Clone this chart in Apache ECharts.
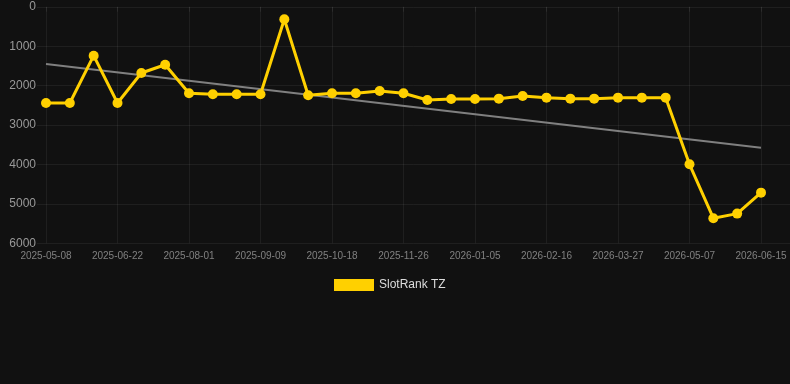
<!DOCTYPE html>
<html>
<head>
<meta charset="utf-8">
<script src="https://cdn.jsdelivr.net/npm/echarts@6/dist/echarts.min.js"></script>
<style>
html,body{margin:0;padding:0;background:#111111;}
#c{width:790px;height:384px;}
</style>
</head>
<body>
<div id="c"></div>
<script>
const categories = [
  '2025-05-08','2025-05-23','2025-06-07','2025-06-22','2025-07-05','2025-07-18',
  '2025-08-01','2025-08-14','2025-08-27','2025-09-09','2025-09-22','2025-10-05',
  '2025-10-18','2025-10-31','2025-11-13','2025-11-26','2025-12-09','2025-12-22',
  '2026-01-05','2026-01-19','2026-02-02','2026-02-16','2026-03-01','2026-03-14',
  '2026-03-27','2026-04-09','2026-04-23','2026-05-07','2026-05-20','2026-06-02',
  '2026-06-15'
];
const rankValues = [
  2440, 2440, 1240, 2440, 1680, 1470,
  2195, 2220, 2220, 2220, 317, 2245,
  2195, 2195, 2135, 2195, 2364, 2338,
  2338, 2330, 2262, 2305, 2330, 2330,
  2305, 2305, 2305, 3995, 5364, 5247,
  4715
];
const trendStart = 1451;
const trendEnd = 3573;
const yTicks = [0, 1000, 2000, 3000, 4000, 5000, 6000];

const trendData = categories.map((c, i) => i === 0 ? trendStart : (i === categories.length - 1 ? trendEnd : null));

const chart = echarts.init(document.getElementById('c'), null, {renderer: 'canvas'});
const gridColor = 'rgba(255,255,255,0.06)';
const gridTop = 6.8, gridBottom = 384 - 243.3;
chart.setOption({
  backgroundColor: '#111111',
  animation: false,
  legend: {
    data: [{name: 'SlotRank TZ', icon: 'rect'}],
    left: 334,
    top: 279,
    padding: 0,
    itemWidth: 40,
    itemHeight: 12,
    itemGap: 10,
    textStyle: {color: '#dddddd', fontSize: 12, fontFamily: 'Liberation Sans, Arial, sans-serif'}
  },
  grid: [
    {left: 46, right: 29, top: gridTop, bottom: gridBottom},
    {left: 37, right: 0, top: gridTop, bottom: gridBottom}
  ],
  xAxis: [
    {
      type: 'category', gridIndex: 0, data: categories, boundaryGap: false,
      axisLine: {show: false},
      axisTick: {show: true, interval: 2, length: 5, lineStyle: {color: gridColor}},
      axisLabel: {interval: 2, color: '#808080', fontSize: 10, margin: 8, fontFamily: 'Liberation Sans, Arial, sans-serif'},
      splitLine: {show: true, interval: 2, lineStyle: {color: gridColor, width: 1}}
    },
    {
      type: 'category', gridIndex: 1, data: categories, show: false
    }
  ],
  yAxis: [
    {
      type: 'value', gridIndex: 0, inverse: true, min: yTicks[0], max: yTicks[yTicks.length - 1], interval: 1000,
      axisLine: {show: false}, axisTick: {show: false},
      axisLabel: {color: '#999999', fontSize: 12, margin: 10, fontFamily: 'Liberation Sans, Arial, sans-serif',
        formatter: v => String(v)},
      splitLine: {show: false}
    },
    {
      type: 'value', gridIndex: 1, inverse: true, min: yTicks[0], max: yTicks[yTicks.length - 1], interval: 1000,
      axisLine: {show: false}, axisTick: {show: false}, axisLabel: {show: false},
      splitLine: {show: true, lineStyle: {color: gridColor, width: 1}}
    }
  ],
  series: [
    {
      name: 'Trend', type: 'line', xAxisIndex: 0, yAxisIndex: 0,
      data: trendData, connectNulls: true, symbol: 'none',
      lineStyle: {color: '#808080', width: 2}, z: 2, silent: true
    },
    {
      name: 'SlotRank TZ', type: 'line', xAxisIndex: 0, yAxisIndex: 0,
      data: rankValues, symbol: 'circle', symbolSize: 10,
      itemStyle: {color: '#FFD000'},
      lineStyle: {color: '#FFD000', width: 3}, z: 3
    }
  ]
});
</script>
</body>
</html>
